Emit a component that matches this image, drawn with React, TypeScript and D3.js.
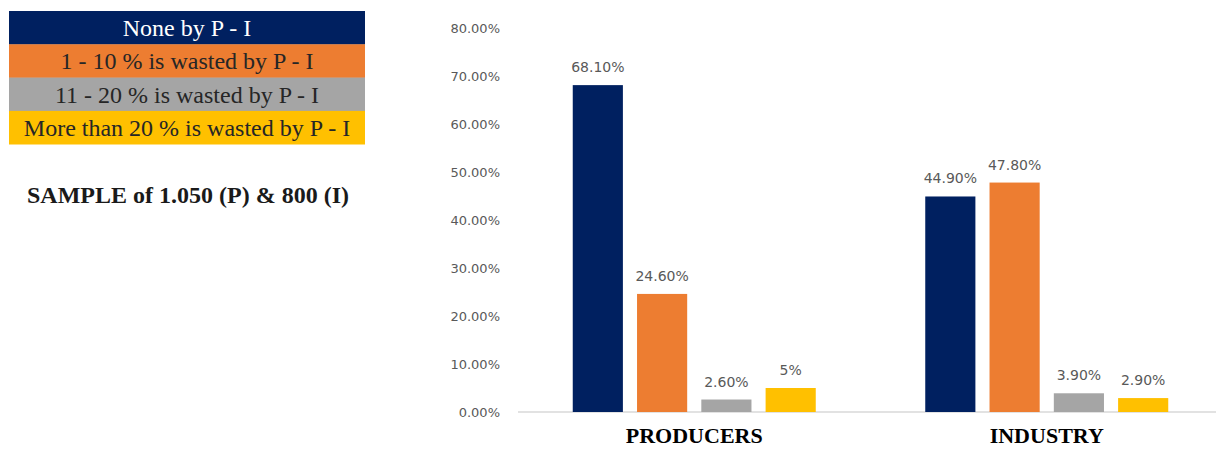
import React, { useEffect, useRef } from "react";
import * as d3 from "d3";

const categories = ["PRODUCERS", "INDUSTRY"];
const seriesNames = [
  "None by P - I",
  "1 - 10 % is wasted by P - I",
  "11 - 20 % is wasted by P - I",
  "More than 20 % is wasted by P - I",
];
const producersValues = [68.1, 24.6, 2.6, 5];
const industryValues = [44.9, 47.8, 3.9, 2.9];
const valueLabels = [
  ["68.10%", "24.60%", "2.60%", "5%"],
  ["44.90%", "47.80%", "3.90%", "2.90%"],
];
const yTicks = [0, 10, 20, 30, 40, 50, 60, 70, 80];
const colors = ["#002060", "#ED7D31", "#A5A5A5", "#FFC000"];
const legendTextColors = ["#ffffff", "#262626", "#262626", "#262626"];
const sampleNote = "SAMPLE of 1.050 (P) & 800 (I)";

const W = 1216;
const H = 449;

export default function App() {
  const ref = useRef<SVGSVGElement>(null);
  useEffect(() => {
    const svg = d3.select(ref.current);
    svg.selectAll("*").remove();
    const values = [producersValues, industryValues];

    const y = d3.scaleLinear().domain([0, 80]).range([412, 28]);
    const x0 = d3.scaleBand().domain(categories).range([518, 1223]).paddingInner(0).paddingOuter(0);
    const groupW = 243;
    const x1 = d3
      .scaleBand()
      .domain(seriesNames)
      .range([0, groupW])
      .paddingInner(0.22)
      .paddingOuter(0);

    // y tick labels
    svg
      .append("g")
      .selectAll("text")
      .data(yTicks)
      .join("text")
      .attr("x", 500)
      .attr("y", (d) => y(d))
      .attr("dy", "0.36em")
      .attr("text-anchor", "end")
      .attr("font-family", "DejaVu Sans, sans-serif")
      .attr("font-size", 13)
      .attr("fill", "#595959")
      .text((d) => d.toFixed(2) + "%");

    // baseline
    svg
      .append("line")
      .attr("x1", 518)
      .attr("x2", 1223)
      .attr("y1", y(0))
      .attr("y2", y(0))
      .attr("stroke", "#D9D9D9")
      .attr("stroke-width", 1.5);

    categories.forEach((cat, ci) => {
      const cx = x0(cat)! + x0.bandwidth() / 2;
      const gx = cx - groupW / 2;
      const g = svg.append("g").attr("transform", `translate(${gx},0)`);
      g.selectAll("rect")
        .data(values[ci])
        .join("rect")
        .attr("x", (_, i) => x1(seriesNames[i])!)
        .attr("y", (d) => y(d))
        .attr("width", x1.bandwidth())
        .attr("height", (d) => y(0) - y(d))
        .attr("fill", (_, i) => colors[i]);
      g.selectAll("text")
        .data(values[ci])
        .join("text")
        .attr("x", (_, i) => x1(seriesNames[i])! + x1.bandwidth() / 2)
        .attr("y", (d) => y(d) - 13)
        .attr("text-anchor", "middle")
        .attr("font-family", "DejaVu Sans, sans-serif")
        .attr("font-size", 14)
        .attr("fill", "#595959")
        .text((_, i) => valueLabels[ci][i]);
      svg
        .append("text")
        .attr("x", cx)
        .attr("y", 443)
        .attr("text-anchor", "middle")
        .attr("font-family", "Liberation Serif, Times New Roman, serif")
        .attr("font-weight", "bold")
        .attr("font-size", 22)
        .attr("fill", "#000")
        .text(cat);
    });

    // legend table
    const rowH = 33.3;
    const lg = svg.append("g");
    seriesNames.forEach((name, i) => {
      lg.append("rect")
        .attr("x", 9)
        .attr("y", 11 + i * rowH)
        .attr("width", 356)
        .attr("height", rowH + 0.3)
        .attr("fill", colors[i]);
      lg.append("text")
        .attr("x", 187)
        .attr("y", 11 + i * rowH + rowH / 2 + 8.5)
        .attr("text-anchor", "middle")
        .attr("font-family", "Liberation Serif, Times New Roman, serif")
        .attr("font-size", 24)
        .attr("fill", legendTextColors[i])
        .text(name);
    });

    svg
      .append("text")
      .attr("x", 188)
      .attr("y", 203)
      .attr("text-anchor", "middle")
      .attr("font-family", "Liberation Serif, Times New Roman, serif")
      .attr("font-weight", "bold")
      .attr("font-size", 24)
      .attr("fill", "#1a1a1a")
      .text(sampleNote);
  }, []);

  return (
    <svg
      ref={ref}
      width={W}
      height={H}
      style={{ position: "absolute", left: 0, top: 0, background: "#fff" }}
    />
  );
}
